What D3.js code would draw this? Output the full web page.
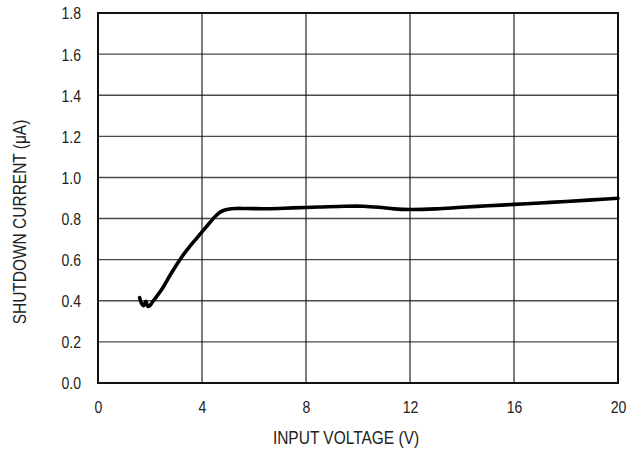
<!DOCTYPE html>
<html>
<head>
<meta charset="utf-8">
<script src="https://cdn.jsdelivr.net/npm/d3@7"></script>
<style>
  html, body { margin: 0; padding: 0; background: #fff; }
  svg { display: block; }
  text { font-family: "Liberation Sans", Arial, sans-serif; fill: #222; }
</style>
</head>
<body>
<svg id="chart" width="637" height="451"></svg>
<script>
// Data
const voltage = [1.6, 1.68, 1.76, 1.84, 1.92, 2.0, 2.1, 2.25, 2.5, 2.8, 3.15, 3.5, 3.8, 4.0, 4.2, 4.4, 4.6, 4.8, 5.0, 5.3, 5.7, 6.5, 7.5, 8.5, 9.5, 10.2, 10.8, 11.4, 12.0, 13.0, 14.0, 15.0, 16.0, 17.0, 18.0, 19.0, 20.0];
const current = [0.415, 0.385, 0.376, 0.398, 0.372, 0.378, 0.395, 0.42, 0.465, 0.53, 0.6, 0.66, 0.705, 0.735, 0.765, 0.795, 0.822, 0.838, 0.845, 0.849, 0.849, 0.848, 0.852, 0.856, 0.86, 0.86, 0.855, 0.847, 0.844, 0.847, 0.855, 0.862, 0.869, 0.876, 0.883, 0.891, 0.899];
const xTicks = [0, 4, 8, 12, 16, 20];
const yTicks = [0.0, 0.2, 0.4, 0.6, 0.8, 1.0, 1.2, 1.4, 1.6, 1.8];
const xTitle = "INPUT VOLTAGE (V)";
const yTitle = "SHUTDOWN CURRENT (μA)";

const svg = d3.select("#chart");
const pLeft = 98, pRight = 618, pTop = 13, pBottom = 383;
const squeeze = 0.85;

const x = d3.scaleLinear().domain([0, 20]).range([pLeft, pRight]);
const y = d3.scaleLinear().domain([0, 1.8]).range([pBottom, pTop]);

// horizontal grid
svg.append("g")
  .selectAll("line").data(yTicks.filter(d => d > 0 && d < 1.8)).join("line")
  .attr("x1", pLeft).attr("x2", pRight)
  .attr("y1", d => y(d)).attr("y2", d => y(d))
  .attr("stroke", "#4a4a4a").attr("stroke-width", 1.4);

// vertical grid
svg.append("g")
  .selectAll("line").data(xTicks.filter(d => d > 0 && d < 20)).join("line")
  .attr("x1", d => x(d)).attr("x2", d => x(d))
  .attr("y1", pTop).attr("y2", pBottom)
  .attr("stroke", "#111").attr("stroke-width", 1.1);

// frame
svg.append("rect")
  .attr("x", pLeft).attr("y", pTop)
  .attr("width", pRight - pLeft).attr("height", pBottom - pTop)
  .attr("fill", "none").attr("stroke", "#111").attr("stroke-width", 2);

// axes (labels only)
const xAxis = d3.axisBottom(x).tickValues(xTicks).tickSize(0).tickPadding(0).tickFormat(d3.format("d"));
const gx = svg.append("g").attr("transform", `translate(0,${pBottom})`).call(xAxis);
gx.select(".domain").remove();
gx.selectAll("text").attr("dy", null).attr("y", 30).attr("font-size", 16.5).attr("fill", "#222")
  .attr("font-family", '"Liberation Sans", Arial, sans-serif')
  .attr("transform", `scale(${squeeze},1)`);

const yAxis = d3.axisLeft(y).tickValues(yTicks).tickSize(0).tickPadding(0).tickFormat(d3.format(".1f"));
const gy = svg.append("g").attr("transform", `translate(${pLeft},0)`).call(yAxis);
gy.select(".domain").remove();
gy.selectAll("text").attr("x", -17 / squeeze).attr("dy", "0.36em").attr("font-size", 16.5).attr("fill", "#222")
  .attr("font-family", '"Liberation Sans", Arial, sans-serif')
  .attr("transform", `scale(${squeeze},1)`);

// curve
const pts = voltage.map((v, i) => [v, current[i]]);
svg.append("path")
  .datum(pts)
  .attr("fill", "none")
  .attr("stroke", "#000")
  .attr("stroke-width", 3.6)
  .attr("stroke-linejoin", "round")
  .attr("stroke-linecap", "round")
  .attr("d", d3.line().x(d => x(d[0])).y(d => y(d[1])).curve(d3.curveCatmullRom.alpha(0.5)));

// titles
svg.append("text")
  .attr("transform", `translate(346,444) scale(0.885,1)`)
  .attr("text-anchor", "middle").attr("font-size", 17.5)
  .text(xTitle);

svg.append("text")
  .attr("transform", `translate(25.5,222) rotate(-90) scale(0.885,1)`)
  .attr("text-anchor", "middle").attr("font-size", 17.5)
  .text(yTitle);
</script>
</body>
</html>
